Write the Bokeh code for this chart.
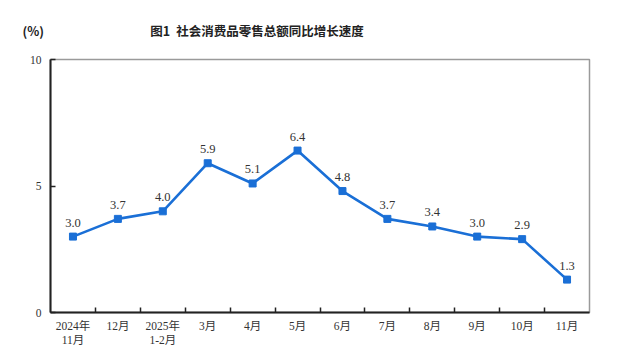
from bokeh.plotting import figure
from bokeh.models import ColumnDataSource, FixedTicker, Range1d, Title
from bokeh.core.properties import value
from bokeh.embed import file_html
from bokeh.resources import INLINE

months = ["2024年\n11月", "12月", "2025年\n1-2月", "3月", "4月", "5月", "6月",
          "7月", "8月", "9月", "10月", "11月"]
growth = [3.0, 3.7, 4.0, 5.9, 5.1, 6.4, 4.8, 3.7, 3.4, 3.0, 2.9, 1.3]
y_ticks = [0, 5, 10]
title_text = "图1\u2002社会消费品零售总额同比增长速度"
unit_text = "(%)"

SERIF = "'Liberation Serif', 'Times New Roman', 'Noto Sans CJK SC'"
BLUE = "#1a6fd6"

xs = list(range(len(months)))
src = ColumnDataSource(dict(x=xs, y=growth, lbl=[f"{v:.1f}" for v in growth]))

p = figure(width=624, height=354, output_backend="svg", toolbar_location=None,
           title=None,
           x_range=Range1d(-0.5, len(months) - 0.5), y_range=Range1d(0, 10),
           min_border_left=50, min_border_right=35, min_border_top=59,
           min_border_bottom=42)
p.grid.visible = False
p.outline_line_color = "#9a9a9a"
p.outline_line_width = 1.5
p.background_fill_color = "white"
p.border_fill_color = "white"

xa = p.xaxis[0]
xa.ticker = FixedTicker(ticks=xs, minor_ticks=[i + 0.5 for i in xs[:-1]])
xa.major_label_overrides = {i: m for i, m in enumerate(months)}
xa.major_tick_in = 0
xa.major_tick_out = 0
xa.minor_tick_in = 5
xa.minor_tick_out = 0
xa.minor_tick_line_color = "#222222"
xa.minor_tick_line_width = 1.5
xa.axis_line_color = "#222222"
xa.axis_line_width = 2
xa.major_label_text_font = SERIF
xa.major_label_text_font_size = "11.5px"
xa.major_label_text_color = "#333333"
xa.major_label_standoff = 7

ya = p.yaxis[0]
ya.ticker = FixedTicker(ticks=y_ticks, minor_ticks=[])
ya.major_tick_in = 5
ya.major_tick_out = 0
ya.major_tick_line_color = "#222222"
ya.major_tick_line_width = 1.5
ya.axis_line_color = "#222222"
ya.axis_line_width = 2
ya.major_label_text_font = SERIF
ya.major_label_text_font_size = "11.5px"
ya.major_label_text_color = "#333333"
ya.major_label_standoff = 9

p.line("x", "y", source=src, line_color=BLUE, line_width=2.6)
p.scatter("x", "y", source=src, marker="square", size=7, fill_color=BLUE,
          line_color=BLUE)
p.text("x", "y", text="lbl", source=src, text_align="center",
       text_baseline="bottom", y_offset=-10, text_font=value(SERIF),
       text_font_size="12.5px", text_color="#333333")

# spacer (closest to the frame), then the heading row
p.add_layout(Title(text="\u2002", text_font_size="3px"), "above")
p.add_layout(Title(text=unit_text + "\u3000" * 8 + "\u2002" + title_text,
                   align="left", offset=-28, text_font="Noto Sans CJK SC",
                   text_font_size="12.5px", text_font_style="bold",
                   text_color="#222222"), "above")

open("out.html", "w").write(file_html(p, INLINE))
